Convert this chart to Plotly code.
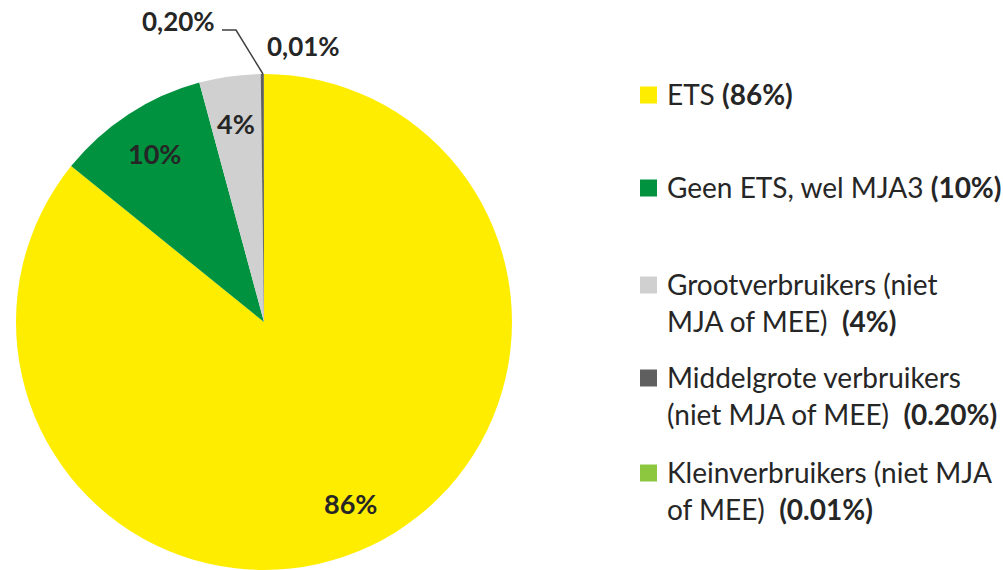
import math
import plotly.graph_objects as go

categories = ["ETS", "Geen ETS, wel MJA3", "Grootverbruikers (niet MJA of MEE)",
              "Middelgrote verbruikers (niet MJA of MEE)", "Kleinverbruikers (niet MJA of MEE)"]
values = [86, 10, 4, 0.20, 0.01]
slice_labels = ["86%", "10%", "4%", "0,20%", "0,01%"]
colors = ["#FFED00", "#00923F", "#D0D0D0", "#5F5F5F", "#8DC63F"]

# legend text: list of lines per item (normal part, bold part)
legend_lines = [
    [("ETS ", "(86%)")],
    [("Geen ETS, wel MJA3 ", "(10%)")],
    [("Grootverbruikers (niet", ""), ("MJA of MEE)\u00a0\u00a0", "(4%)")],
    [("Middelgrote verbruikers", ""), ("(niet MJA of MEE)\u00a0\u00a0", "(0.20%)")],
    [("Kleinverbruikers (niet MJA", ""), ("of MEE)\u00a0\u00a0", "(0.01%)")],
]

W, H = 1003, 570
FONT = "Lato"
TXT = "#262626"

# pie geometry (pixels)
PX0, PX1, PY_TOP = 15, 513, 74
R = min(PX1 - PX0, H - PY_TOP) / 2
CX, CY = (PX0 + PX1) / 2, PY_TOP + R


def px(x):
    return x / W


def py(y):
    return 1 - y / H


fig = go.Figure()
fig.add_trace(go.Pie(
    labels=categories, values=values, text=slice_labels,
    textinfo="none", sort=False, direction="clockwise", rotation=0,
    marker=dict(colors=colors, line=dict(width=0)),
    domain=dict(x=[px(PX0), px(PX1)], y=[0, py(PY_TOP)]),
    showlegend=False, hoverinfo="label+percent",
))

# data labels for the three large slices, on the slice bisector
total = sum(values)
cum = 0
for v, lab in zip(values, slice_labels):
    mid = (cum + v / 2) / total * 2 * math.pi
    cum += v
    if v / total < 0.02:
        continue
    rr = 0.81 * R
    fig.add_annotation(xref="paper", yref="paper",
                       x=px(CX + rr * math.sin(mid)), y=py(CY - rr * math.cos(mid)),
                       xanchor="center", yanchor="middle", text=f"<b>{lab}</b>",
                       showarrow=False, font=dict(family=FONT, size=27, color=TXT))

# small slice labels
fig.add_annotation(xref="paper", yref="paper", x=px(217), y=py(21), xanchor="right", yanchor="middle",
                   text=f"<b>{slice_labels[3]}</b>", showarrow=False,
                   font=dict(family=FONT, size=26, color=TXT))
fig.add_annotation(xref="paper", yref="paper", x=px(303), y=py(46), xanchor="center", yanchor="middle",
                   text=f"<b>{slice_labels[4]}</b>", showarrow=False,
                   font=dict(family=FONT, size=26, color=TXT))
fig.add_shape(type="path", xref="paper", yref="paper",
              path=f"M {px(222)} {py(30)} L {px(236)} {py(30)} L {px(CX - 1)} {py(PY_TOP)}",
              line=dict(color="#404040", width=1.5))

# manual legend
row_y = [95, 188, 285, 378, 473]
line_gap = 37
for i, (lines, col) in enumerate(zip(legend_lines, colors)):
    y0 = row_y[i]
    fig.add_shape(type="rect", xref="paper", yref="paper",
                  x0=px(640), x1=px(657), y0=py(y0 + 8.5), y1=py(y0 - 8.5),
                  fillcolor=col, line=dict(width=0))
    for j, (norm, bold) in enumerate(lines):
        t = norm + (f"<b>{bold}</b>" if bold else "")
        fig.add_annotation(xref="paper", yref="paper", x=px(665), y=py(y0 - 1 + j * line_gap),
                           xanchor="left", yanchor="middle", text=t, showarrow=False,
                           font=dict(family=FONT, size=28, color=TXT))

fig.update_layout(width=W, height=H, margin=dict(l=0, r=0, t=0, b=0),
                  paper_bgcolor="white", plot_bgcolor="white", separators=",.")
fig.write_html("out.html", config={"displayModeBar": False},
               post_script="document.body.style.margin='0';")
